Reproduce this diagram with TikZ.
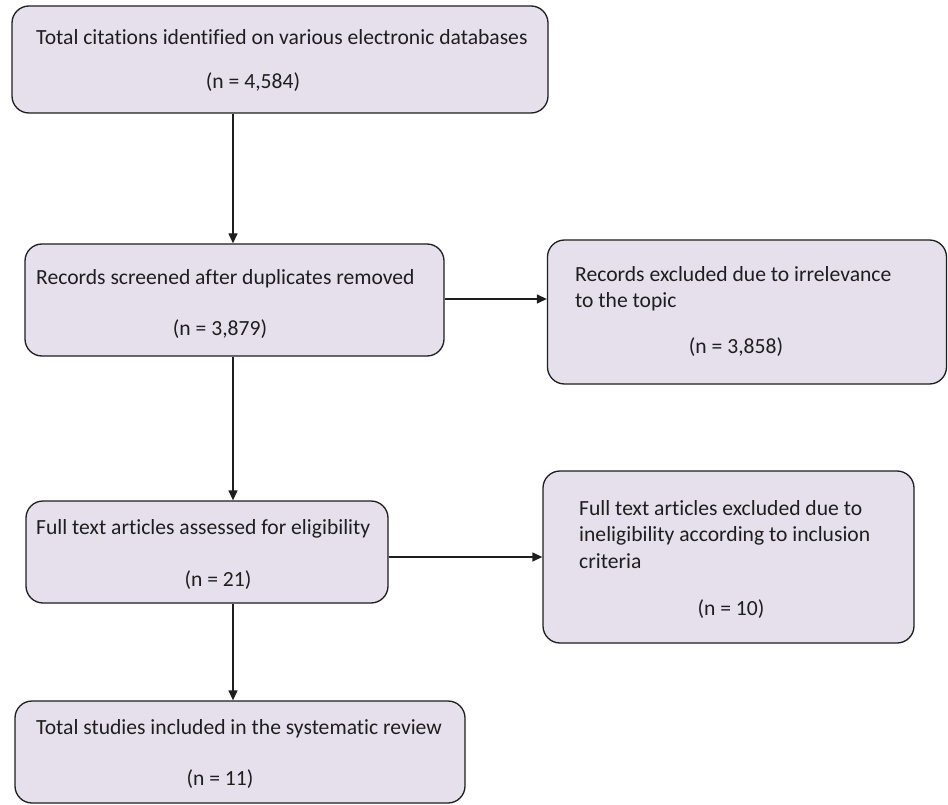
\documentclass[tikz,border=0pt]{standalone}
\usepackage{fontspec}
\setmainfont[Ligatures=NoCommon]{Carlito}
\usetikzlibrary{arrows.meta}

\definecolor{boxfill}{HTML}{E6E0EC}
\definecolor{ink}{HTML}{1E1E1E}

\begin{document}
\begin{tikzpicture}[x=1pt,y=-1pt,>={Triangle[length=10pt,width=9pt]},
        box/.style={draw=ink,fill=boxfill,line width=1.3pt,rounded corners=17pt,inner sep=0pt},
        txt/.style={inner sep=0pt,text=ink,font=\fontsize{21.6}{26.4}\selectfont},
        flow/.style={->,draw=ink,line width=1.3pt}]

  \useasboundingbox (0,0) rectangle (948,805);

  % boxes
  \node[box,minimum width=536pt,minimum height=107pt] (total) at (280,59.5) {};
  \node[box,minimum width=419pt,minimum height=112pt] (screened) at (234.5,300) {};
  \node[box,minimum width=399pt,minimum height=144pt] (irrel) at (747,312) {};
  \node[box,minimum width=362pt,minimum height=102pt] (fulltext) at (207,552) {};
  \node[box,minimum width=371pt,minimum height=172pt] (inelig) at (728.5,557) {};
  \node[box,minimum width=450pt,minimum height=102pt] (included) at (240,752) {};

  % texts
  \node[txt,anchor=west] (total-t) at (36,37) {Total citations identified on various electronic databases};
  \node[txt] (total-n) at (253,82) {(n = 4,584)};
  \node[txt,anchor=west] (screened-t) at (36,279) {Records screened after duplicates removed};
  \node[txt] (screened-n) at (220,329) {(n = 3,879)};
  \node[txt,anchor=north west,align=left] (irrel-t) at (575,266) {Records excluded due to irrelevance\\to the topic};
  \node[txt] (irrel-n) at (736,347) {(n = 3,858)};
  \node[txt,anchor=north west,align=left] (inelig-t) at (579,500) {Full text articles excluded due to\\ineligibility according to inclusion\\criteria};
  \node[txt] (inelig-n) at (731,609) {(n = 10)};
  \node[txt,anchor=west] (fulltext-t) at (36,529) {Full text articles assessed for eligibility};
  \node[txt] (fulltext-n) at (218,580) {(n = 21)};
  \node[txt,anchor=west] (included-t) at (36,729) {Total studies included in the systematic review};
  \node[txt] (included-n) at (220,779) {(n = 11)};

  % connectors
  \coordinate (spine) at (233,0);
  \coordinate (row1) at (0,299);
  \coordinate (row2) at (0,557);
  \draw[flow] (total.south -| spine) -- (screened.north -| spine);
  \draw[flow] (screened.south -| spine) -- (fulltext.north -| spine);
  \draw[flow] (fulltext.south -| spine) -- (included.north -| spine);
  \draw[flow] (screened.east |- row1) -- (irrel.west |- row1);
  \draw[flow] (fulltext.east |- row2) -- (inelig.west |- row2);

\end{tikzpicture}
\end{document}
